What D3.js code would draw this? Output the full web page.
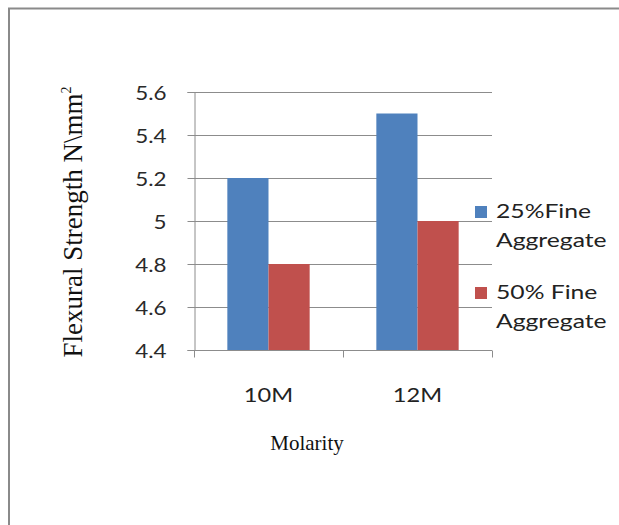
<!DOCTYPE html>
<html><head><meta charset="utf-8">
<script src="https://cdn.jsdelivr.net/npm/d3@7"></script>
<style>
html,body{margin:0;padding:0;background:#fff;}
svg{display:block;}
</style></head>
<body>
<svg id="c" width="619" height="525"></svg>
<script>
const categories = ["10M", "12M"];
const seriesNames = ["25%Fine Aggregate", "50% Fine Aggregate"];
const legendLines = [["25%Fine", "Aggregate"], ["50% Fine", "Aggregate"]];
const fine25 = [5.2, 5.5];
const fine50 = [4.8, 5.0];
const yTicks = [4.4, 4.6, 4.8, 5.0, 5.2, 5.4, 5.6];
const yTickLabels = ["4.4", "4.6", "4.8", "5", "5.2", "5.4", "5.6"];
const yTitle = "Flexural Strength N\\mm";
const xTitle = "Molarity";
const colors = ["#4F81BD", "#C0504D"];

(function() {
const svg = d3.select("#c");
const sans = "Lato, 'Open Sans', sans-serif";
const serif = "'Liberation Serif', 'DejaVu Serif', serif";
const SX = 1.18;

svg.append("path").attr("d", "M9,525 L9,8.5 L619,8.5").attr("fill", "none")
  .attr("stroke", "#8a8a8a").attr("stroke-width", 2);

const pl = 194, pr = 492, pt = 92, pb = 350;
const y = d3.scaleLinear().domain([4.4, 5.6]).range([pb, pt]);
const x0 = d3.scaleBand().domain(categories).range([pl, pr]).padding(0);
const x1 = d3.scaleBand().domain(seriesNames).range([0, x0.bandwidth()]).paddingInner(0).paddingOuter(0.81);

svg.append("g").selectAll("line").data(yTicks).join("line")
  .attr("x1", pl).attr("x2", pr)
  .attr("y1", d => Math.round(y(d)) + 0.5).attr("y2", d => Math.round(y(d)) + 0.5)
  .attr("stroke", "#8c8c8c").attr("stroke-width", 1);

const data = categories.map((c, i) => ({c, vals: [fine25[i], fine50[i]]}));
const grp = svg.append("g").selectAll("g").data(data).join("g")
  .attr("transform", d => `translate(${x0(d.c)},0)`);
grp.selectAll("rect").data(d => d.vals.map((v, j) => ({v, s: seriesNames[j], j}))).join("rect")
  .attr("x", d => x1(d.s)).attr("width", x1.bandwidth())
  .attr("y", d => y(d.v)).attr("height", d => pb - y(d.v))
  .attr("fill", d => colors[d.j]);

const yAxis = d3.axisLeft(y).tickValues(yTicks).tickFormat((d, i) => yTickLabels[i]).tickSize(7).tickPadding(0);
const ya = svg.append("g").attr("transform", `translate(${pl + 0.5},0)`).call(yAxis);
ya.select(".domain").attr("stroke", "#8c8c8c");
ya.selectAll(".tick line").attr("stroke", "#8c8c8c");
ya.selectAll(".tick text").attr("font-family", sans).attr("font-size", 19).attr("fill", "#2a2a2a")
  .attr("x", 0).attr("dy", null).attr("y", 0)
  .attr("transform", `translate(-28,7) scale(${SX},1)`);

const xAxis = d3.axisBottom(d3.scaleLinear().domain([0, 2]).range([pl, pr])).tickValues([0, 1, 2]).tickFormat("").tickSize(7);
const xa = svg.append("g").attr("transform", `translate(0,${pb + 0.5})`).call(xAxis);
xa.select(".domain").attr("d", `M${pl},0H${pr}`).attr("stroke", "#8c8c8c");
xa.selectAll(".tick line").attr("stroke", "#8c8c8c");

svg.append("g").selectAll("text").data(categories).join("text")
  .attr("transform", d => `translate(${x0(d) + x0.bandwidth() / 2},402) scale(${SX},1)`)
  .attr("text-anchor", "middle").attr("font-family", sans).attr("font-size", 20).attr("fill", "#222")
  .text(d => d);

svg.append("text").attr("transform", `translate(307,450)`)
  .attr("text-anchor", "middle").attr("font-family", serif).attr("font-size", 21).attr("fill", "#111")
  .text(xTitle);

const yt = svg.append("text").attr("transform", `translate(82,222) rotate(-90)`)
  .attr("text-anchor", "middle").attr("font-family", serif).attr("font-size", 27).attr("fill", "#111");
yt.append("tspan").text(yTitle);
yt.append("tspan").attr("font-size", 14).attr("dy", -11).text("2");

const lg = svg.append("g").selectAll("g").data(seriesNames).join("g")
  .attr("transform", (d, i) => `translate(475,${206 + i * 81})`);
lg.append("rect").attr("width", 12).attr("height", 12).attr("fill", (d, i) => colors[i]);
lg.each(function(d, i) {
  const g = d3.select(this);
  legendLines[i].forEach((t, k) => {
    g.append("text").attr("transform", `translate(21,${12 + k * 29}) scale(1.3,1)`)
      .attr("font-family", sans).attr("font-size", 19).attr("fill", "#222").text(t);
  });
});
})();
</script>
</body></html>
